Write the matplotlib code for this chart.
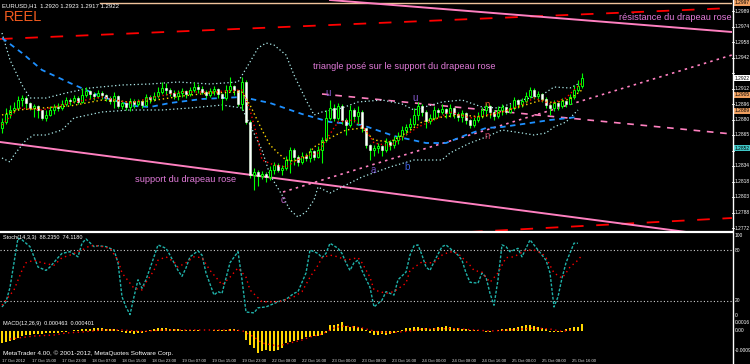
import matplotlib
matplotlib.use("Agg")
import matplotlib.pyplot as plt
from matplotlib.lines import Line2D
import numpy as np

plt.rcParams['font.family'] = ['Liberation Sans', 'DejaVu Sans']

# ---------------- data (EURUSD H1) ----------------
first_open = 1.2872
close = [1.2878, 1.2886, 1.2890, 1.2892, 1.2900, 1.2902, 1.2897, 1.2892, 1.2894, 1.2890,
         1.2882, 1.2885, 1.2890, 1.2893, 1.2892, 1.2896, 1.2900, 1.2899, 1.2902, 1.2898,
         1.2905, 1.2909, 1.2906, 1.2904, 1.2907, 1.2905, 1.2902, 1.2899, 1.2904, 1.2894,
         1.2897, 1.2893, 1.2899, 1.2896, 1.2899, 1.2895, 1.2903, 1.2901, 1.2904, 1.2908,
         1.2912, 1.2910, 1.2907, 1.2904, 1.2907, 1.2909, 1.2906, 1.2910, 1.2913, 1.2911,
         1.2908, 1.2905, 1.2909, 1.2911, 1.2906, 1.2902, 1.2910, 1.2914, 1.2910, 1.2896,
         1.2918, 1.2878, 1.2825, 1.2828, 1.2824, 1.2826, 1.2823, 1.2830, 1.2835, 1.2830,
         1.2832, 1.2840, 1.2850, 1.2843, 1.2838, 1.2844, 1.2842, 1.2849, 1.2843, 1.2850,
         1.2860, 1.2882, 1.2892, 1.2882, 1.2894, 1.2880, 1.2875, 1.2890, 1.2884, 1.2888,
         1.2872, 1.2855, 1.2850, 1.2852, 1.2854, 1.2850, 1.2858, 1.2855, 1.2860, 1.2864,
         1.2870, 1.2873, 1.2876, 1.2885, 1.2894, 1.2888, 1.2879, 1.2882, 1.2890, 1.2888,
         1.2891, 1.2887, 1.2892, 1.2886, 1.2883, 1.2887, 1.2880, 1.2875, 1.2880, 1.2884,
         1.2890, 1.2894, 1.2888, 1.2884, 1.2890, 1.2893, 1.2888, 1.2892, 1.2900, 1.2896,
         1.2899, 1.2904, 1.2910, 1.2904, 1.2906, 1.2901, 1.2895, 1.2892, 1.2897, 1.2894,
         1.2899, 1.2896, 1.2903, 1.2910, 1.2914, 1.2922]
high = [1.2882, 1.2892, 1.2895, 1.2898, 1.2904, 1.2905, 1.2904, 1.2898, 1.2896, 1.2895,
        1.2890, 1.2890, 1.2894, 1.2896, 1.2897, 1.2900, 1.2903, 1.2902, 1.2905, 1.2904,
        1.2912, 1.2913, 1.2910, 1.2908, 1.2910, 1.2909, 1.2906, 1.2904, 1.2908, 1.2905,
        1.2900, 1.2898, 1.2902, 1.2901, 1.2901, 1.2900, 1.2906, 1.2905, 1.2908, 1.2913,
        1.2918, 1.2917, 1.2912, 1.2910, 1.2910, 1.2912, 1.2910, 1.2913, 1.2918, 1.2916,
        1.2914, 1.2910, 1.2912, 1.2914, 1.2912, 1.2907, 1.2915, 1.2923, 1.2915, 1.2910,
        1.2923, 1.2920, 1.2880, 1.2832, 1.2830, 1.2829, 1.2828, 1.2834, 1.2838, 1.2837,
        1.2835, 1.2844, 1.2853, 1.2852, 1.2845, 1.2848, 1.2847, 1.2852, 1.2850, 1.2854,
        1.2863, 1.2890, 1.2900, 1.2896, 1.2897, 1.2896, 1.2882, 1.2895, 1.2892, 1.2894,
        1.2890, 1.2872, 1.2856, 1.2855, 1.2857, 1.2855, 1.2862, 1.2860, 1.2864, 1.2868,
        1.2874, 1.2876, 1.2882, 1.2892, 1.2898, 1.2896, 1.2890, 1.2886, 1.2894, 1.2892,
        1.2896, 1.2892, 1.2896, 1.2893, 1.2888, 1.2890, 1.2888, 1.2881, 1.2883, 1.2888,
        1.2893, 1.2897, 1.2895, 1.2890, 1.2894, 1.2896, 1.2894, 1.2896, 1.2903, 1.2901,
        1.2902, 1.2908, 1.2913, 1.2912, 1.2909, 1.2907, 1.2903, 1.2897, 1.2900, 1.2898,
        1.2902, 1.2900, 1.2906, 1.2915, 1.2920, 1.2927]
low = [1.2867, 1.2876, 1.2882, 1.2887, 1.2890, 1.2894, 1.2892, 1.2890, 1.2883, 1.2882,
       1.2880, 1.2879, 1.2884, 1.2886, 1.2889, 1.2890, 1.2894, 1.2895, 1.2897, 1.2896,
       1.2897, 1.2903, 1.2901, 1.2900, 1.2902, 1.2901, 1.2899, 1.2896, 1.2892, 1.2892,
       1.2891, 1.2890, 1.2889, 1.2892, 1.2894, 1.2892, 1.2894, 1.2897, 1.2899, 1.2902,
       1.2906, 1.2905, 1.2904, 1.2901, 1.2900, 1.2903, 1.2902, 1.2904, 1.2908, 1.2907,
       1.2906, 1.2902, 1.2903, 1.2905, 1.2902, 1.2890, 1.2900, 1.2908, 1.2905, 1.2894,
       1.2890, 1.2876, 1.2822, 1.2810, 1.2814, 1.2821, 1.2818, 1.2820, 1.2826, 1.2828,
       1.2825, 1.2830, 1.2827, 1.2835, 1.2834, 1.2836, 1.2839, 1.2838, 1.2840, 1.2842,
       1.2837, 1.2858, 1.2880, 1.2879, 1.2880, 1.2876, 1.2865, 1.2873, 1.2878, 1.2875,
       1.2868, 1.2852, 1.2840, 1.2844, 1.2847, 1.2844, 1.2848, 1.2850, 1.2852, 1.2856,
       1.2860, 1.2865, 1.2870, 1.2874, 1.2880, 1.2884, 1.2872, 1.2876, 1.2880, 1.2883,
       1.2886, 1.2882, 1.2883, 1.2882, 1.2879, 1.2878, 1.2876, 1.2872, 1.2873, 1.2878,
       1.2882, 1.2884, 1.2882, 1.2880, 1.2882, 1.2885, 1.2886, 1.2887, 1.2890, 1.2892,
       1.2893, 1.2897, 1.2902, 1.2901, 1.2901, 1.2898, 1.2892, 1.2885, 1.2889, 1.2890,
       1.2892, 1.2893, 1.2896, 1.2901, 1.2908, 1.2912]

# moving averages / bands (bar index, price)
ma_blue_bars = [0, 5, 10, 17, 25, 33, 37, 42, 50, 60, 67, 75, 82, 90, 98, 106, 111, 116, 121, 125, 132, 137, 144]
ma_blue = [1.2962, 1.2947, 1.2930, 1.2917, 1.2903, 1.2894, 1.2893, 1.2897, 1.2901, 1.2903, 1.2897, 1.2886,
           1.2878, 1.2875, 1.2864, 1.2857, 1.2857, 1.2865, 1.2872, 1.2873, 1.2877, 1.2880, 1.2883]
bb_up_bars = [0, 2, 5, 7, 11, 16, 22, 30, 37, 44, 52, 59, 62, 64, 66, 68, 71, 73, 76, 78, 80, 85, 89, 95,
              100, 103, 110, 115, 120, 124, 130, 135, 138, 142, 144]
bb_up = [1.2967, 1.2940, 1.2915, 1.2902, 1.2902, 1.2907, 1.2912, 1.2915, 1.2916, 1.2918, 1.2916, 1.2918,
         1.2938, 1.2952, 1.2957, 1.2955, 1.2945, 1.2925, 1.2900, 1.2885, 1.2888, 1.2892, 1.2898, 1.2900,
         1.2896, 1.2890, 1.2898, 1.2900, 1.2893, 1.2892, 1.2900, 1.2905, 1.2913, 1.2912, 1.2916]
bb_lo_bars = [0, 2, 3, 6, 8, 11, 15, 18, 25, 32, 40, 47, 55, 60, 62, 65, 67, 70, 72, 74, 76, 78, 79, 82,
              86, 90, 97, 103, 110, 112, 117, 121, 125, 130, 133, 136, 138, 141, 144]
bb_lo = [1.2842, 1.2838, 1.2845, 1.2860, 1.2865, 1.2865, 1.2870, 1.2882, 1.2888, 1.2890, 1.2890, 1.2892,
         1.2895, 1.2892, 1.2875, 1.2850, 1.2825, 1.2805, 1.2790, 1.2783, 1.2788, 1.2800, 1.2813, 1.2807,
         1.2815, 1.2823, 1.2833, 1.2840, 1.2840, 1.2847, 1.2857, 1.2863, 1.2870, 1.2867, 1.2865, 1.2867,
         1.2873, 1.2878, 1.2890]
ma_yel_bars = [0, 4, 10, 17, 25, 32, 37, 45, 52, 60, 62, 65, 67, 69, 71, 73, 76, 78, 82, 86, 90, 93, 97,
               101, 105, 110, 115, 120, 125, 130, 135, 138, 142, 145]
ma_yel = [1.2885, 1.2890, 1.2892, 1.2894, 1.2900, 1.2898, 1.2899, 1.2904, 1.2907, 1.2908, 1.2895, 1.2870,
          1.2855, 1.2847, 1.2840, 1.2839, 1.2843, 1.2853, 1.2862, 1.2870, 1.2872, 1.2860, 1.2858, 1.2867,
          1.2878, 1.2883, 1.2885, 1.2883, 1.2888, 1.2894, 1.2900, 1.2897, 1.2901, 1.2910]
ma_red_bars = [0, 4, 10, 17, 25, 32, 37, 45, 52, 60, 62, 64, 65, 68, 71, 75, 79, 81, 84, 88, 91, 93, 97,
               101, 104, 108, 112, 117, 121, 125, 130, 133, 137, 141, 143, 145]
ma_red = [1.2875, 1.2892, 1.2890, 1.2897, 1.2903, 1.2897, 1.2902, 1.2908, 1.2908, 1.2910, 1.2890, 1.2860,
          1.2840, 1.2835, 1.2833, 1.2843, 1.2847, 1.2860, 1.2878, 1.2880, 1.2870, 1.2857, 1.2854, 1.2865,
          1.2873, 1.2880, 1.2888, 1.2882, 1.2885, 1.2888, 1.2895, 1.2902, 1.2896, 1.2902, 1.2910, 1.2917]

# drawn objects (bar, price) endpoints
red_dash_top = [(-0.5, 1.2961), (182.5, 1.2992)]
pink_resist = [(82.0, 1.3000), (182.5, 1.2968)]
tan_top = [(24.5, 1.2997), (182.5, 1.2997)]
red_dash_low = [(117.0, 1.2768), (182.5, 1.2782)]
pink_support = [(-0.5, 1.2858), (182.5, 1.2762)]
pink_tri_top = [(80.0, 1.2906), (182.5, 1.2866)]
pink_tri_low = [(70.25, 1.2808), (182.5, 1.2945)]

# stochastic (14,3,3)
st_bars = [0, 1, 2, 3, 4, 5, 7, 8, 9, 11, 12, 14, 15, 17, 19, 20, 21, 23, 24, 26, 28, 29, 30, 31, 32, 33, 34,
           35, 36, 38, 39, 41, 42, 44, 45, 46, 47, 49, 50, 51, 53, 54, 55, 57, 59, 60, 61, 63, 64, 66, 69, 71,
           73, 74, 76, 77, 79, 80, 81, 82, 84, 85, 86, 87, 88, 89, 90, 92, 93, 95, 96, 98, 99, 101, 102, 103,
           104, 105, 106, 107, 108, 110, 111, 112, 114, 115, 116, 117, 119, 120, 121, 122, 123, 124, 125, 126,
           127, 129, 130, 132, 133, 134, 136, 137, 138, 139, 140, 141, 143, 144]
st_main = [13, 19, 36, 65, 94, 92, 84, 72, 60, 56, 60, 71, 76, 78, 72, 88, 93, 84, 85, 84, 80, 65, 25, 13, 4,
           25, 45, 35, 45, 72, 86, 82, 74, 56, 49, 59, 72, 79, 74, 53, 27, 31, 29, 65, 78, 45, 7, 6, 12, 13,
           19, 22, 29, 31, 53, 80, 76, 71, 76, 88, 82, 76, 65, 56, 65, 68, 56, 36, 13, 21, 31, 27, 45, 54, 74,
           85, 86, 74, 60, 56, 66, 84, 86, 82, 74, 68, 53, 42, 41, 53, 48, 29, 15, 45, 86, 84, 78, 82, 72, 92,
           86, 80, 68, 53, 13, 25, 47, 65, 88, 88]
sg_bars = [0, 3, 5, 6, 8, 10, 13, 15, 17, 20, 22, 24, 27, 29, 30, 33, 35, 36, 38, 39, 41, 43, 44, 46, 48, 50,
           52, 54, 55, 57, 59, 61, 62, 65, 68, 70, 73, 75, 77, 79, 80, 82, 84, 86, 89, 90, 92, 93, 96, 98, 101,
           102, 105, 106, 108, 110, 112, 114, 117, 118, 120, 122, 124, 125, 126, 128, 131, 133, 135, 136, 138,
           140, 141, 142, 144, 145]
st_signal = [15, 33, 56, 65, 68, 65, 62, 71, 74, 80, 85, 85, 82, 68, 53, 35, 33, 42, 56, 68, 72, 66, 60, 65,
             72, 71, 56, 45, 39, 48, 59, 48, 33, 19, 19, 20, 25, 31, 48, 62, 71, 74, 72, 68, 71, 65, 48, 33,
             29, 31, 41, 56, 66, 65, 65, 74, 78, 76, 62, 56, 54, 42, 53, 62, 71, 72, 80, 80, 76, 71, 53, 47,
             53, 60, 68, 74]

# OsMA histogram and signal
osma = [-0.00120, -0.00110, -0.00100, -0.00090, -0.00070, -0.00050, -0.00040, -0.00040, -0.00030, -0.00030,
        -0.00030, -0.00020, -0.00020, -0.00020, -0.00020, -0.00010, -0.00010, 0.00005, 0.00010, 0.00010,
        0.00020, 0.00020, 0.00020, 0.00030, 0.00030, 0.00030, 0.00020, 0.00020, 0.00020, 0.00010,
        -0.00010, -0.00020, -0.00020, -0.00030, -0.00020, -0.00020, -0.00010, 0.00010, 0.00020, 0.00030,
        0.00030, 0.00030, 0.00020, 0.00020, 0.00020, 0.00010, 0.00010, 0.00010, 0.00010, 0.00010,
        0.00005, 0.00005, 0.00005, 0.00010, 0.00010, 0.00010, 0.00015, 0.00020, 0.00020, 0.00010,
        0.00005, -0.00090, -0.00140, -0.00170, -0.00220, -0.00200, -0.00190, -0.00200, -0.00200, -0.00190,
        -0.00170, -0.00120, -0.00110, -0.00100, -0.00090, -0.00080, -0.00060, -0.00060, -0.00050, -0.00050,
        -0.00040, -0.00020, 0.00060, 0.00060, 0.00070, 0.00090, 0.00050, 0.00040, 0.00050, 0.00040,
        0.00030, 0.00010, -0.00020, -0.00040, -0.00040, -0.00030, -0.00040, -0.00030, -0.00020, -0.00010,
        0.00010, 0.00030, 0.00030, 0.00040, 0.00040, 0.00030, 0.00030, 0.00020, 0.00030, 0.00040,
        0.00040, 0.00050, 0.00040, 0.00030, 0.00030, 0.00020, 0.00020, 0.00010, 0.00010, 0.00010,
        0.00005, -0.00005, -0.00005, 0.00005, 0.00010, 0.00020, 0.00020, 0.00030, 0.00030, 0.00040,
        0.00050, 0.00060, 0.00060, 0.00050, 0.00040, 0.00030, 0.00020, -0.00005, -0.00010, -0.00010,
        -0.00005, 0.00020, 0.00030, 0.00040, 0.00040, 0.00070]
os_sig_bars = [2, 4, 8, 13, 16, 20, 25, 30, 35, 40, 45, 50, 55, 60, 63, 65, 69, 72, 75, 77, 80, 83, 85, 88, 90,
               92, 94, 98, 102, 105, 108, 112, 115, 118, 122, 127, 133, 137, 140, 143]
os_sig = [-0.0008, -0.0007, -0.0005, -0.0004, -0.0002, -0.0001, 0.0001, 0.0001, -0.00005, 0.0001, 0.0001,
          0.0001, 0.0001, 0.00005, -0.0006, -0.0012, -0.0015, -0.0012, -0.0009, -0.0006, -0.0003, 0.0003,
          0.0005, 0.0004, 0.0003, 0.0001, -0.0001, -0.00015, 0.0, 0.0002, 0.0002, 0.00025, 0.0002, 0.0001,
          0.0, 0.0001, 0.0003, 0.0002, -0.00005, 0.00015]

price_ticks = [1.29890, 1.29735, 1.29580, 1.29425, 1.29270, 1.29115, 1.28960, 1.28805,
               1.28650, 1.28495, 1.28340, 1.28185, 1.28030, 1.27875, 1.27720]
orange_marks = [1.29970, 1.29050, 1.28890]
cyan_mark = 1.28520
time_labels = ["17 Oct 2012", "17 Oct 15:00", "17 Oct 23:00", "18 Oct 07:00", "18 Oct 15:00",
               "18 Oct 23:00", "19 Oct 07:00", "19 Oct 15:00", "19 Oct 23:00", "22 Oct 08:00",
               "22 Oct 16:00", "23 Oct 00:00", "23 Oct 08:00", "23 Oct 16:00", "24 Oct 00:00",
               "24 Oct 08:00", "24 Oct 16:00", "25 Oct 00:00", "25 Oct 08:00", "25 Oct 16:00"]
time_label_bars = [0, 7.5, 15, 22.5, 30, 37.5, 45, 52.5, 60, 67.5, 75, 82.5, 90, 97.5, 105,
                   112.5, 120, 127.5, 135, 142.5]

# ---------------- figure ----------------
W, H = 750, 364
fig = plt.figure(figsize=(W / 100, H / 100), dpi=100)
fig.patch.set_facecolor('black')


def pax(x0, y0, x1, y1):
    a = fig.add_axes([x0 / W, 1 - y1 / H, (x1 - x0) / W, (y1 - y0) / H])
    a.set_facecolor('black')
    a.set_axis_off()
    a.set_xlim(-0.5, 182.5)
    return a


def ftext(x, y, s, **kw):
    fig.text(x / W, 1 - y / H, s, **kw)


ax = pax(0, 0, 732, 231)
ax.set_ylim(1.2769, 1.3000)
ax_st = pax(0, 232, 732, 319)
ax_st.set_ylim(-1.2, 101.2)
ax_m = pax(0, 320, 732, 355)
ax_m.set_ylim(-0.0024, 0.0011)


def seg(pts, **kw):
    ax.plot([p[0] for p in pts], [p[1] for p in pts], **kw)


# objects
seg(tan_top, color='#f0c39b', lw=1.0, zorder=1)
seg(red_dash_top, color='#ff0000', lw=1.3, ls=(0, (7, 7)), zorder=1)
seg(red_dash_low, color='#ff0000', lw=1.3, ls=(0, (7, 7)), zorder=1)
seg(pink_resist, color='#ff80c0', lw=1.4, zorder=1)
seg(pink_support, color='#ff80c0', lw=1.4, zorder=1)
seg(pink_tri_top, color='#ff80c0', lw=1.2, ls=(0, (4, 4)), zorder=1)
seg(pink_tri_low, color='#ff80c0', lw=1.2, ls=(0, (1.5, 2.5)), zorder=1)

# indicators
ax.plot(bb_up_bars, bb_up, color='#afeeee', lw=0.9, ls=(0, (1, 2)), zorder=2)
ax.plot(bb_lo_bars, bb_lo, color='#afeeee', lw=0.9, ls=(0, (1, 2)), zorder=2)
ax.plot(ma_blue_bars, ma_blue, color='#1e90ff', lw=1.3, ls=(0, (3, 2.5)), zorder=2)
ax.plot(ma_yel_bars, ma_yel, color='#ffd700', lw=1.0, ls=(0, (1, 2)), zorder=4)
ax.plot(ma_red_bars, ma_red, color='#ff0000', lw=1.0, ls=(0, (1, 2)), zorder=4)

# candles
n = len(close)
xb = np.arange(n)
c = np.array(close)
o = np.array([first_open] + close[:-1])
h = np.array(high)
l = np.array(low)
up = c >= o
ax.vlines(xb, l, h, color='#00ff00', lw=0.8, zorder=3)
ax.bar(xb[up], (c - o)[up], bottom=o[up], width=0.6, color='black', edgecolor='#00ff00', lw=0.7, zorder=3.5)
ax.bar(xb[~up], (o - c)[~up], bottom=c[~up], width=0.6, color='white', edgecolor='#e8ffe8', lw=0.4, zorder=3.5)

# annotations
ax.text(0.5, 1.2979, "REEL", color='#f05a1e', fontsize=10.5,
        family=['Liberation Sans Narrow', 'Liberation Sans', 'DejaVu Sans'], va='baseline', ha='left')
ax.text(100.5, 1.2931, "triangle posé sur le support du drapeau rose", color='#e07ad8', fontsize=6.7,
        ha='center', va='baseline')
ax.text(46.0, 1.2818, "support du drapeau rose", color='#e07ad8', fontsize=6.7, ha='center', va='baseline')
ax.text(168.3, 1.2980, "résistance du drapeau rose", color='#e07ad8', fontsize=6.7, ha='center', va='baseline')
for bx, py, s, col in [(81.5, 1.2907, 'u', '#8a5cd6'), (103.25, 1.2902, 'u', '#8a5cd6'),
                       (121.25, 1.2895, 'n', '#e0502a'), (121.25, 1.2864, 'n', '#c04060'),
                       (70.25, 1.2800, 'c', '#c060c8'), (92.75, 1.2830, 'a', '#7050c0'),
                       (101.25, 1.2833, 'b', '#4060e0')]:
    ax.text(bx, py, s, color=col, fontsize=7, ha='center', va='center')

ftext(2, 7.5, "EURUSD,H1  1.2920 1.2923 1.2917 1.2922", color='white', fontsize=4.3, va='baseline')

# price scale
LAB = 3.5
ytr = ax.get_yaxis_transform()
marks = orange_marks + [cyan_mark, close[-1]]
for p in price_ticks:
    ax.plot([1.0, 1.003], [p, p], transform=ytr, color='white', lw=0.6, clip_on=False)
    if min(abs(p - m) for m in marks) < 0.0006:
        continue
    ax.text(1.0035, p, f"{p:.4f}", transform=ytr, color='white', fontsize=LAB, va='center', ha='left',
            clip_on=False)
for p in orange_marks:
    ax.text(1.0035, p, f"{p:.4f}", transform=ytr, color='black', fontsize=LAB, va='center', ha='left',
            clip_on=False, bbox=dict(boxstyle='square,pad=0.15', fc='#f0a060', ec='none'))
ax.text(1.0035, cyan_mark, f"{cyan_mark:.4f}", transform=ytr, color='black', fontsize=LAB, va='center',
        ha='left', clip_on=False, bbox=dict(boxstyle='square,pad=0.15', fc='#40c8c8', ec='none'))
ax.text(1.0035, close[-1], f"{close[-1]:.4f}", transform=ytr, color='black', fontsize=LAB, va='center',
        ha='left', clip_on=False, bbox=dict(boxstyle='square,pad=0.15', fc='white', ec='none'))

# stochastic panel
for lev in (80, 20):
    ax_st.axhline(lev, color='#d0d0d0', lw=0.8, ls=(0, (1, 2)))
ax_st.plot(st_bars, st_main, color='#20b2aa', lw=1.0, ls=(0, (2, 1.2)))
ax_st.plot(sg_bars, st_signal, color='#ff0000', lw=1.0, ls=(0, (1, 2.5)))
sttr = ax_st.get_yaxis_transform()
for v, s in [(97, "100"), (80, "80"), (20, "20"), (3, "0")]:
    ax_st.text(1.0035, v, s, transform=sttr, color='white', fontsize=LAB, va='center', ha='left', clip_on=False)
ftext(3, 239, "Stoch(14,3,3)  88.2350  74.1180", color='white', fontsize=4.0, va='baseline')

# OsMA panel
ax_m.bar(xb, osma, width=0.5, color='#ffd700', zorder=2)
ax_m.plot(os_sig_bars, os_sig, color='#ff0000', lw=1.0, ls=(0, (1, 2.5)), zorder=3)
mtr = ax_m.get_yaxis_transform()
for v, s in [(0.00085, "0.0016"), (0.0, "0.00"), (-0.0020, "-0.0009")]:
    ax_m.text(1.0035, v, s, transform=mtr, color='white', fontsize=LAB, va='center', ha='left', clip_on=False)
ftext(3, 325, "MACD(12,26,9)  0.000463  0.000401", color='white', fontsize=4.0, va='baseline')

ftext(3, 355, "MetaTrader 4.00, © 2001-2012, MetaQuotes Software Corp.", color='white', fontsize=4.6,
      va='baseline')

# time axis labels
for b, s in zip(time_label_bars, time_labels):
    ftext(2 + 4 * b, 362, s, color='#e0e0e0', fontsize=3.1, va='baseline', ha='left')

# frame lines
fig.add_artist(Line2D([0, 732 / W], [1 - 231.5 / H, 1 - 231.5 / H], color='white', lw=1.6))
fig.add_artist(Line2D([732.5 / W, 732.5 / W], [0, 1], color='white', lw=1.0))

fig.savefig("out.png", dpi=100, facecolor='black')
